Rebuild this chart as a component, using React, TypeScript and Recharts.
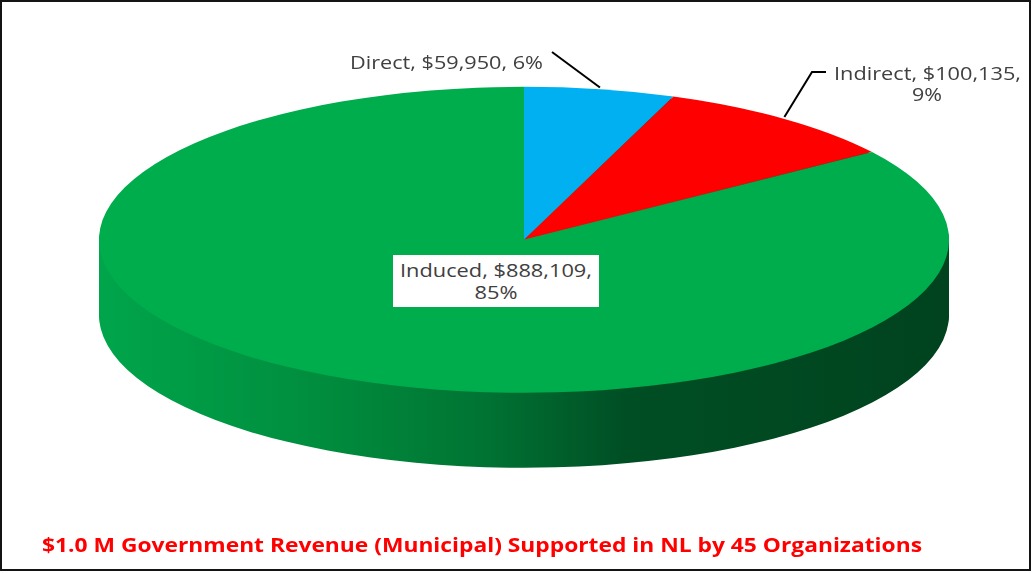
import { PieChart, Pie, Cell } from 'recharts';

const categories = ['Direct', 'Indirect', 'Induced'];
const revenue = [59950, 100135, 888109];
const percentLabels = [6, 9, 85];
const chartTitle = '$1.0 M Government Revenue (Municipal) Supported in NL by 45 Organizations';

const topColors = ['#00B0F0', '#FF0000', '#00AD4D'];

const data = categories.map((name, i) => ({ name, value: revenue[i], pct: percentLabels[i] }));

// the pie is drawn as a circle, then squashed by S with css so it reads as a tilted disc
const CX = 519;
const CY = 238; // screen y of the disc centre
const R = 425;
const S = 153 / 425;
const CYU = Math.ceil(CY / S) + 10; // disc centre inside the unsquashed chart (room above for labels)
const DEPTH = 75 / S;
const LAYERS = 30;
const sideOffsets = Array.from({ length: LAYERS }, (_, i) => DEPTH - i * (DEPTH / LAYERS));
const CHART_H = CYU + DEPTH + R + 15;

const RAD = Math.PI / 180;
const fmt = (v: number) => '$' + v.toLocaleString('en-US');

// where each label's text sits (screen px)
const labelLayout = [
  { lines: [{ x: 350, y: 69, w: 193, anchor: 'start' }], leader: [[552, 52]] },
  {
    lines: [
      { x: 834, y: 80, w: 187, anchor: 'start' },
      { x: 927, y: 101, w: 30, anchor: 'middle' },
    ],
    leader: [[826, 72], [812, 72]],
  },
  {
    box: { x: 393, y: 255, w: 206, h: 52 },
    lines: [
      { x: 496, y: 277, w: 192, anchor: 'middle' },
      { x: 496, y: 299, w: 43, anchor: 'middle' },
    ],
    leader: null,
  },
];

function renderLabel(props: any) {
  const { index, midAngle, cx, outerRadius } = props;
  const d = data[index];
  const lay: any = labelLayout[index];
  const texts =
    lay.lines.length === 1
      ? [`${d.name}, ${fmt(d.value)}, ${d.pct}%`]
      : [`${d.name}, ${fmt(d.value)},`, `${d.pct}%`];
  // slice edge in screen px
  const ex = cx + outerRadius * Math.cos(-midAngle * RAD);
  const ey = CY + outerRadius * Math.sin(-midAngle * RAD) * S;
  const pts = lay.leader ? [...lay.leader, [ex, ey]] : null;
  return (
    <g key={`lbl-${index}`} transform={`translate(0,${CYU}) scale(1,${1 / S}) translate(0,${-CY})`}>
      {lay.box && (
        <rect x={lay.box.x} y={lay.box.y} width={lay.box.w} height={lay.box.h} fill="#fff" />
      )}
      {pts && (
        <polyline
          points={pts.map((p: number[]) => p.join(',')).join(' ')}
          fill="none"
          stroke="#000"
          strokeWidth={2}
        />
      )}
      {texts.map((t, j) => (
        <text
          key={j}
          x={lay.lines[j].x}
          y={lay.lines[j].y}
          textAnchor={lay.lines[j].anchor}
          textLength={lay.lines[j].w}
          lengthAdjust="spacingAndGlyphs"
          fontFamily="'Open Sans', sans-serif"
          fontSize={18.5}
          fill="#404040"
        >
          {t}
        </text>
      ))}
    </g>
  );
}

export default function App() {
  return (
    <div
      style={{
        position: 'absolute',
        left: 0,
        top: 0,
        width: 1034,
        height: 573,
        background: '#fff',
        overflow: 'hidden',
      }}
    >
      <div
        style={{
          position: 'absolute',
          left: 0,
          top: CY - CYU,
          transform: `scaleY(${S})`,
          transformOrigin: `0px ${CYU}px`,
        }}
      >
        <PieChart width={1034} height={CHART_H}>
          <defs>
            <linearGradient id="sideGreen" x1="0" y1="0" x2="1" y2="0">
              <stop offset="0%" stopColor="#00A54B" />
              <stop offset="25%" stopColor="#008E3E" />
              <stop offset="45%" stopColor="#007433" />
              <stop offset="62%" stopColor="#004E24" />
              <stop offset="100%" stopColor="#00431E" />
            </linearGradient>
          </defs>
          {sideOffsets.map((off) => (
            <Pie
              key={`side-${off}`}
              data={data}
              dataKey="value"
              nameKey="name"
              cx={CX}
              cy={CYU + off}
              outerRadius={R}
              startAngle={90}
              endAngle={-270}
              stroke="none"
              isAnimationActive={false}
              label={false}
              labelLine={false}
            >
              {data.map((d) => (
                <Cell key={d.name} fill="url(#sideGreen)" />
              ))}
            </Pie>
          ))}
          <Pie
            data={data}
            dataKey="value"
            nameKey="name"
            cx={CX}
            cy={CYU}
            outerRadius={R}
            startAngle={90}
            endAngle={-270}
            stroke="none"
            isAnimationActive={false}
            label={renderLabel}
            labelLine={false}
          >
            {data.map((d, i) => (
              <Cell key={d.name} fill={topColors[i]} />
            ))}
          </Pie>
        </PieChart>
      </div>
      <svg
        width={1034}
        height={573}
        style={{ position: 'absolute', left: 0, top: 0, pointerEvents: 'none' }}
      >
        <rect x={1} y={1} width={1029} height={569} fill="none" stroke="#141414" strokeWidth={2} />
        <text
          x={42}
          y={552}
          textLength={880}
          lengthAdjust="spacingAndGlyphs"
          fontFamily="'Open Sans', sans-serif"
          fontWeight={700}
          fontSize={20}
          fill="#FF0000"
        >
          {chartTitle}
        </text>
      </svg>
    </div>
  );
}
